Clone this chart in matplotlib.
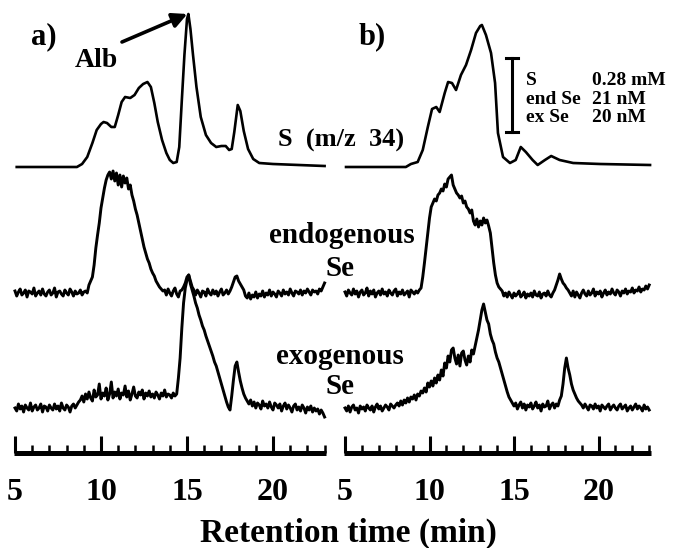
import numpy as np
import matplotlib
matplotlib.use('Agg')
from matplotlib import pyplot as plt
from matplotlib.ticker import FixedLocator, NullFormatter

plt.rcParams['font.family'] = ['Liberation Serif', 'DejaVu Serif']
plt.rcParams['font.weight'] = 'bold'

W, H = 673, 548

# ---- data (heights above each baseline, arb. units) ----
# S (m/z 34) traces, read at irregular retention times (min)
s_a_time = [5.1, 8.6, 8.9, 9.2, 9.5, 9.75, 10.0, 10.15, 10.35, 10.6,
            10.8, 11.0, 11.2, 11.4, 11.7, 11.95, 12.2, 12.45, 12.7, 12.9,
            13.1, 13.3, 13.55, 13.8, 14.0, 14.2, 14.4, 14.55, 14.7, 14.85,
            15.0, 15.08, 15.2, 15.35, 15.55, 15.8, 16.1, 16.4, 16.7, 17.0,
            17.25, 17.45, 17.6, 17.75, 17.95, 18.1, 18.3, 18.55, 18.85, 19.2,
            20.0, 21.5, 23.0]
s_a = [0, 0, 3, 10, 24, 37, 43, 45, 44, 40,
       40, 52, 65, 70, 69, 72, 79, 83, 85, 80,
       64, 45, 27, 14, 7, 4, 5, 20, 67, 112,
       148, 153, 138, 112, 80, 50, 32, 24, 20, 21,
       21, 17, 18, 35, 62, 56, 36, 18, 8, 4,
       3, 2, 1]

s_b_time = [5.06, 8.6, 8.9, 9.3, 9.6, 9.9, 10.15, 10.4, 10.6, 10.9,
            11.1, 11.33, 11.57, 11.86, 12.16, 12.46, 12.75, 13.0, 13.1, 13.34,
            13.64, 13.88, 14.05, 14.35, 14.76, 15.1, 15.4, 15.7, 16.1, 16.4,
            16.83, 17.2, 17.7, 18.5, 20.1, 23.05]
s_b = [0, 0, 3, 5, 17, 40, 58, 60, 55, 74,
       85, 84, 77, 92, 102, 117, 134, 141, 142, 132,
       114, 84, 34, 10, 4, 7, 20, 15, 7, 2,
       7, 11, 7, 4, 3, 2]

# Se traces, read every 0.1 min starting at 5.0 min
dt = 0.1
endo_a = [2, -3, 1, 4, -2, 0, 3, -4, 2, 1, -1, 5, -3, 0, 2, -2, 4, -1, -3, 1,
          3, -2, 0, 5, -4, 1, 2, -1, -3, 3, 0, -2, 4, 1, -3, 2, -1, 0, 3, -2,
          1, 2, 0,
          8, 12, 16, 28, 45, 58, 70, 85, 95, 105, 113, 118, 121, 114, 122, 112,
          120, 108, 118, 106, 117, 110, 115, 104, 108, 98, 92, 84, 78, 70,
          62, 54, 46, 40, 34, 30, 24, 20, 17, 12, 9, 6, 4, 2,
          3, -2, 4, 0, -3, 2, 5, -1, -4, 2, 3,
          6, 10, 16, 18, 12, 6, 3,
          -2, 3, 0, -4, 2, 1, -3, 4, 0, -2, 3, -1, 2, -3, 1, 4, -2, 0, 3, -1, 2,
          6, 11, 16, 17, 12, 9, 6, 3,
          -3, -5, 0, -6, -2, -4, 1, -5, -1, -3, 2, -4, 0, -2, 3, -3, 1, -1, -4, 2,
          0, -3, 3, -1, 1, -2, 4, 0, -3, 2, 1, -1, 3, -2, 2, 0, 4, 1, -2, 3,
          1, 2, -1, 4, 2, 6, 10]

exo_a = [0, -3, 4, -1, 2, -4, 3, 0, -2, 5, -3, 1, 3, -2, 0, 4, -4, 2, 1, -3,
         3, 0, -2, 4, -1, 2, -3, 5, 0, -2, 3, 1, -4, 2, 4, 0, 3, 6,
         8, 12, 6, 14, 9, 16, 10, 7, 18, 11, 13, 24, 9, 15, 12, 20, 8, 14, 26, 10,
         16, 12, 19, 9, 15, 13, 22, 11, 17, 8, 14, 21, 12, 10, 16, 13, 18, 9, 15, 12,
         17, 11, 14, 10, 16, 13, 9, 15, 12, 18, 11, 14, 13, 10, 15, 12, 14,
         30, 50, 80, 105, 120, 128, 133, 124, 118, 112, 105, 100, 93, 88, 82, 78,
         72, 67, 62, 57, 52, 46, 42, 36, 30, 24, 18, 12, 6, 1, -2, 12, 28, 42, 46,
         36, 27, 20, 14, 10, 7,
         4, 8, 2, 6, 0, 5, 3, -1, 7, 2, 4, 0, 6, 1, -2, 5, 3, 0, 4, -3,
         2, 5, -1, 3, 0, -4, 2, 4, -2, 1, -3, 3, 0, -5, 1, -2, 2, -4, 0, -3,
         -1, -6, -2, -5, -9]

endo_b = [1, -3, 3, 0, -2, 4, -1, 2, -4, 1, 3, -2, 0, 5, -3, 2, -1, 3, -4, 0,
          2, -2, 4, -1, 1, -3, 3, 0, -2, 2, 4, -3, 1, -1, 3, -2, 0, 2, -4, 3,
          1, -1, 2, 0, 3, 5,
          16, 30, 45, 60, 75, 86, 90, 94, 92, 98, 100, 104, 102, 109, 106, 114,
          116, 118, 108, 104, 100, 98, 95, 97, 90, 92, 86, 84, 80, 83, 72, 68,
          74, 66, 72, 68, 75, 70, 73, 67, 60, 45, 30, 18, 10, 6, 4,
          2, -3, 0, -4, 1, -2, -5, 0, -3, -1, 2, -4, -2, 1, -5, -1, -3, 0, -4, 2,
          -2, -3, 1, -5, -1, 0, -3, 2, -2, -4, 0, 3,
          8, 13, 19, 14, 10, 8, 5, 3,
          0, -3, 2, -4, 1, -2, -5, 0, 3, -1, -3, 2, -2, 0, 4, -3, 1, -1, 2, -4,
          0, 3, -2, 1, -1, 4, 0, -2, 3, 1, -3, 2, 0, 4, -1, 2, 1, 5, 0, 3,
          2, 6, 1, 4, 3, 7, 4, 8]

exo_b = [0, -3, 2, -4, 1, 3, -2, 0, -5, 2, -1, 1, -3, 3, 0, -2, 2, -4, 1, 4,
         -1, 2, -3, 0, 3, 1, -2, 4, 2, 0, 3,
         5, 2, 7, 3, 8, 5, 10, 6, 11, 9, 13, 8, 14, 12, 17, 15, 20, 16, 25, 21,
         27, 22, 30, 25, 33, 28, 38, 32, 45, 40, 52, 46, 58, 60, 50, 44, 53, 42,
         55, 57, 48, 43, 52, 46, 58, 54, 62, 70, 78, 88, 98, 104, 96, 88, 84, 74,
         68, 64, 56, 50, 46, 40, 34, 28, 22, 16, 11, 8, 5,
         2, 5, -1, 3, 6, 0, 4, -2, 3, 1, 5, -1, 2, 6, 0, 3, -3, 4, 1, 2,
         7, -1, 3, 5, 0, 4, 2, 8, 12,
         24, 40, 50, 40, 33, 24, 18, 14, 10, 7, 5,
         3, 0, 4, 1, -2, 3, 2, -1, 4, 0, 2, -3, 3, 1, -1, 2, 4, -2, 1, 3,
         0, -2, 2, 4, -1, 1, 3, -3, 0, 2, -2, 1, 4, -1, 2, 0, -3, 3, -1, 1, -2]

major_ticks = [5, 10, 15, 20]
minor_ticks = list(range(5, 24))

scale_rows = [("S", "0.28 mM"), ("end Se", "21 nM"), ("ex Se", "20 nM")]


def se_time(vals):
    return 5.0 + dt * np.arange(len(vals))


def fxy(x, y):
    # pixel position (from top-left) -> figure fraction
    return x / W, 1 - y / H


fig = plt.figure(figsize=(W / 100, H / 100), dpi=100)
bot = (H - 452.5) / H
ax_a = fig.add_axes([0, bot, 336 / W, 452.5 / H])
ax_b = fig.add_axes([336 / W, bot, 337 / W, 452.5 / H])

# baselines of the stacked traces
off_s, off_endo, off_exo = 285.5, 159.5, 44.5

panels = [(ax_a, s_a_time, s_a, endo_a, exo_a, (4.128, 23.663)),
          (ax_b, s_b_time, s_b, endo_b, exo_b, (4.467, 24.408))]

for ax, st, s, en, ex, xl in panels:
    ax.plot(st, np.array(s) + off_s, color='k', lw=1.9)
    ax.plot(se_time(en), np.array(en) + off_endo, color='k', lw=2.1)
    ax.plot(se_time(ex), np.array(ex) + off_exo, color='k', lw=2.1)
    ax.set_xlim(*xl)
    ax.set_ylim(0, 452.5)
    for side in ['top', 'left', 'right']:
        ax.spines[side].set_visible(False)
    ax.spines['bottom'].set_linewidth(3.6)
    ax.spines['bottom'].set_bounds(4.92, 23.08)
    ax.spines['bottom'].set_capstyle('butt')
    ax.set_yticks([])
    ax.xaxis.set_major_locator(FixedLocator(major_ticks))
    ax.xaxis.set_minor_locator(FixedLocator(minor_ticks))
    ax.xaxis.set_minor_formatter(NullFormatter())
    ax.tick_params(axis='x', which='major', direction='in', length=12.6,
                   width=2.2, pad=18, labelsize=23)
    ax.tick_params(axis='x', which='minor', direction='in', length=6.1,
                   width=1.8)
    ax.patch.set_alpha(0)

# labels of panel a
fig.text(*fxy(31, 44), "a)", fontsize=22, va='baseline')
fig.text(*fxy(75, 67), "Alb", fontsize=20, va='baseline')
ax_a.annotate("", xy=(15.02, 438.5), xytext=(11.22, 410.5),
              arrowprops=dict(arrowstyle='-|>', lw=2.6, color='k',
                              mutation_scale=22, shrinkA=0, shrinkB=0))
fig.text(*fxy(341, 147), "S  (m/z  34)", fontsize=19, ha='center', va='baseline')
fig.text(*fxy(342, 243), "endogenous", fontsize=21, ha='center', va='baseline')
fig.text(*fxy(340, 276), "Se", fontsize=21, ha='center', va='baseline')
fig.text(*fxy(340, 364), "exogenous", fontsize=21, ha='center', va='baseline')
fig.text(*fxy(340, 394), "Se", fontsize=21, ha='center', va='baseline')

# panel b label and scale bar
fig.text(*fxy(359, 44), "b)", fontsize=22, va='baseline')
xb = 5 + (512 - 345) / 16.9
ax_b.plot([xb, xb], [452.5 - 58, 452.5 - 132], color='k', lw=2.2)
ax_b.plot([xb - 0.38, xb + 0.38], [452.5 - 58] * 2, color='k', lw=2.2)
ax_b.plot([xb - 0.38, xb + 0.38], [452.5 - 132] * 2, color='k', lw=2.2)
for i, (name, conc) in enumerate(scale_rows):
    yb = 85 + i * 18.5
    fig.text(*fxy(526, yb), name, fontsize=14, va='baseline')
    fig.text(*fxy(592, yb), conc, fontsize=14, va='baseline')

fig.text(*fxy(348, 542), "Retention time (min)", fontsize=24, ha='center',
         va='baseline')

fig.savefig('out.png', dpi=100)
